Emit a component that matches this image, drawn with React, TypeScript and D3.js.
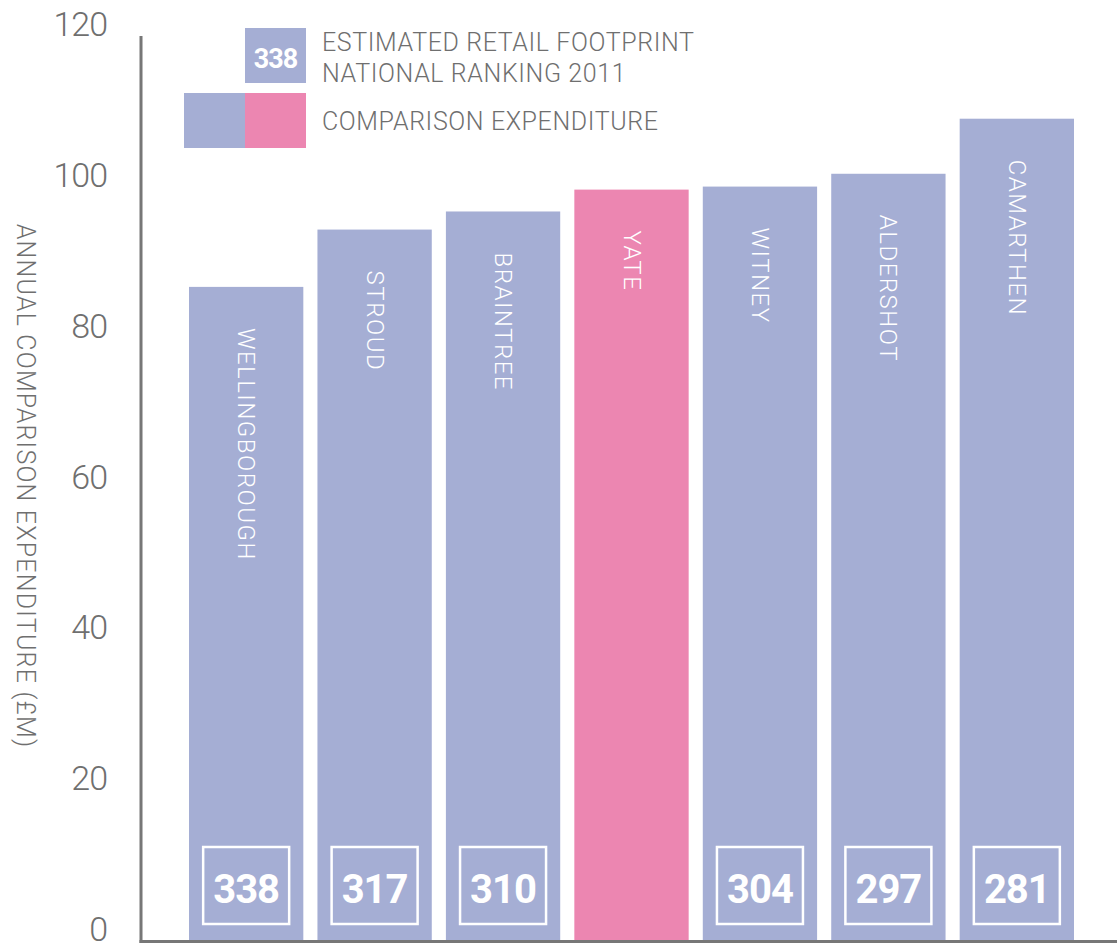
import React, { useEffect, useRef } from 'react';
import * as d3 from 'd3';

const towns = ['WELLINGBOROUGH', 'STROUD', 'BRAINTREE', 'YATE', 'WITNEY', 'ALDERSHOT', 'CAMARTHEN'];
const expenditure = [86.6, 94.2, 96.6, 99.5, 99.9, 101.6, 108.9];
const ranks: (number | null)[] = [338, 317, 310, null, 304, 297, 281];
const highlighted = ['YATE'];
const yTicks = [0, 20, 40, 60, 80, 100, 120];

const BLUE = '#a5aed4';
const PINK = '#ec86b1';
const GREY = '#6f6f6f';
const FONT = 'Roboto, "DejaVu Sans", sans-serif';

export default function App() {
  const svgRef = useRef<SVGSVGElement>(null);

  useEffect(() => {
    if (!svgRef.current) return;
    const svg = d3.select(svgRef.current);
    svg.selectAll('*').remove();

    const width = 1117;
    const height = 944;
    const axisX = 141;
    const baseY = 940;

    const x = d3.scaleBand<string>().domain(towns).range([189, 1074]).paddingInner(0.11).paddingOuter(0);
    const y = d3.scaleLinear().domain([0, 120]).range([baseY, baseY - 905]);

    svg.attr('width', width).attr('height', height).style('font-family', FONT);

    // Y tick labels (no tick marks, just numbers)
    svg
      .append('g')
      .selectAll('text')
      .data(yTicks)
      .enter()
      .append('text')
      .attr('x', 107)
      .attr('y', (d) => y(d) + 1)
      .attr('text-anchor', 'end')
      .style('font-size', '34px')
      .style('font-weight', 300)
      .style('letter-spacing', '-1px')
      .style('fill', GREY)
      .text((d) => d);

    // Y-axis title
    svg
      .append('text')
      .attr('transform', `translate(25, 486) rotate(90)`)
      .attr('text-anchor', 'middle')
      .attr('dominant-baseline', 'central')
      .style('font-size', '25px')
      .style('font-weight', 300)
      .style('letter-spacing', '1.2px')
      .style('fill', GREY)
      .text('ANNUAL COMPARISON EXPENDITURE (£M)');

    // Bars
    const bars = svg
      .selectAll('.bar')
      .data(towns)
      .enter()
      .append('g')
      .attr('class', 'bar');

    bars
      .append('rect')
      .attr('x', (d) => x(d)!)
      .attr('y', (d, i) => y(expenditure[i]))
      .attr('width', x.bandwidth())
      .attr('height', (d, i) => y(0) - y(expenditure[i]))
      .attr('fill', (d) => (highlighted.includes(d) ? PINK : BLUE));

    // Town names, rotated, reading downwards
    bars
      .append('text')
      .attr('transform', (d, i) => `translate(${x(d)! + x.bandwidth() / 2}, ${y(expenditure[i]) + 41}) rotate(90)`)
      .attr('dominant-baseline', 'central')
      .style('font-size', '24px')
      .style('font-weight', 300)
      .style('letter-spacing', '1.5px')
      .style('fill', '#fff')
      .text((d) => d);

    // Ranking boxes at the foot of each bar
    const ranked = bars.filter((d, i) => ranks[i] !== null);
    const boxW = 86;
    ranked
      .append('rect')
      .attr('x', (d) => x(d)! + (x.bandwidth() - boxW) / 2)
      .attr('y', baseY - 93)
      .attr('width', boxW)
      .attr('height', 77)
      .attr('fill', 'none')
      .attr('stroke', '#fff')
      .attr('stroke-width', 2.5);

    ranked
      .append('text')
      .attr('x', (d) => x(d)! + x.bandwidth() / 2)
      .attr('y', baseY - 37)
      .attr('text-anchor', 'middle')
      .style('font-size', '40px')
      .style('font-weight', 700)
      .style('letter-spacing', '-1px')
      .style('fill', '#fff')
      .text((d) => ranks[towns.indexOf(d)]);

    // Axes lines
    svg
      .append('line')
      .attr('x1', axisX)
      .attr('x2', axisX)
      .attr('y1', y(120) + 1)
      .attr('y2', baseY + 3)
      .attr('stroke', '#777')
      .attr('stroke-width', 3);

    svg
      .append('line')
      .attr('x1', axisX - 1.5)
      .attr('x2', width)
      .attr('y1', baseY + 1.5)
      .attr('y2', baseY + 1.5)
      .attr('stroke', '#777')
      .attr('stroke-width', 3);

    // Legend
    const legend = svg.append('g');
    legend.append('rect').attr('x', 245).attr('y', 28).attr('width', 61).attr('height', 55).attr('fill', BLUE);
    legend
      .append('text')
      .attr('x', 275.5)
      .attr('y', 68)
      .attr('text-anchor', 'middle')
      .style('font-size', '27px')
      .style('font-weight', 700)
      .style('letter-spacing', '-1px')
      .style('fill', '#fff')
      .text(ranks[0]);

    const legendText = (txt: string, ty: number) =>
      legend
        .append('text')
        .attr('x', 322)
        .attr('y', ty)
        .style('font-size', '25px')
        .style('font-weight', 300)
        .style('letter-spacing', '0.6px')
        .style('fill', GREY)
        .text(txt);

    legendText('ESTIMATED RETAIL FOOTPRINT', 51);
    legendText('NATIONAL RANKING 2011', 82);

    legend.append('rect').attr('x', 184).attr('y', 93).attr('width', 61).attr('height', 55).attr('fill', BLUE);
    legend.append('rect').attr('x', 245).attr('y', 93).attr('width', 61).attr('height', 55).attr('fill', PINK);
    legendText('COMPARISON EXPENDITURE', 130);
  }, []);

  return (
    <div style={{ position: 'absolute', left: 0, top: 0 }}>
      <svg ref={svgRef} style={{ display: 'block' }}></svg>
    </div>
  );
}
